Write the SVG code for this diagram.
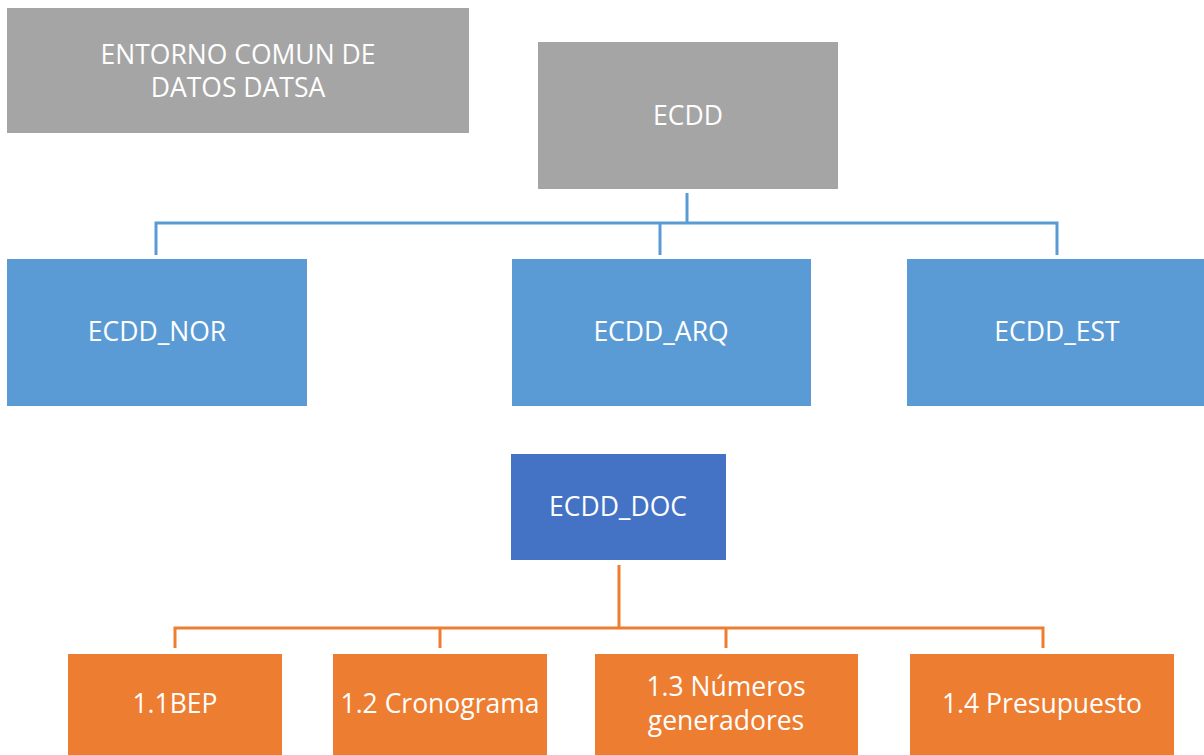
<svg xmlns="http://www.w3.org/2000/svg" width="1204" height="755" viewBox="0 0 1204 755">
<style>
.t{font-family:"Open Sans","Noto Sans","Liberation Sans",sans-serif;font-size:26.5px;fill:#ffffff;text-anchor:middle;dominant-baseline:central}
.gray{fill:#a5a5a5}
.blue{fill:#5b9bd5}
.dblue{fill:#4472c4}
.orange{fill:#ed7d31}
.cb{fill:none;stroke:#5b9bd5;stroke-width:3}
.co{fill:none;stroke:#ed7d31;stroke-width:3}
</style>
<rect width="1204" height="755" fill="#ffffff"/>
<g id="connectors">
<path class="cb" d="M687 193V223M156 255V223H1057V255M660 223V255"/>
<path class="co" d="M619 565V628M175 648V628H1043V648M440 628V648M726 628V648"/>
</g>
<g id="entorno"><rect class="gray" x="7" y="8" width="462" height="125"/><text class="t" x="238" y="54">ENTORNO COMUN DE</text><text class="t" x="238" y="87">DATOS DATSA</text></g>
<g id="ecdd"><rect class="gray" x="538" y="42" width="300" height="147"/><text class="t" x="688" y="115">ECDD</text></g>
<g id="ecdd_nor"><rect class="blue" x="7" y="259" width="300" height="147"/><text class="t" x="157" y="331">ECDD_NOR</text></g>
<g id="ecdd_arq"><rect class="blue" x="512" y="259" width="299" height="147"/><text class="t" x="661" y="331">ECDD_ARQ</text></g>
<g id="ecdd_est"><rect class="blue" x="907" y="259" width="300" height="147"/><text class="t" x="1057" y="331">ECDD_EST</text></g>
<g id="ecdd_doc"><rect class="dblue" x="511" y="454" width="215" height="106"/><text class="t" x="618" y="506">ECDD_DOC</text></g>
<g id="bep"><rect class="orange" x="68" y="654" width="214" height="110"/><text class="t" x="175" y="703">1.1BEP</text></g>
<g id="cronograma"><rect class="orange" x="333" y="654" width="214" height="110"/><text class="t" x="440" y="703">1.2 Cronograma</text></g>
<g id="numeros"><rect class="orange" x="595" y="654" width="263" height="110"/><text class="t" x="726" y="686">1.3 Números</text><text class="t" x="726" y="720">generadores</text></g>
<g id="presupuesto"><rect class="orange" x="910" y="654" width="264" height="110"/><text class="t" x="1042" y="703">1.4 Presupuesto</text></g>
</svg>
